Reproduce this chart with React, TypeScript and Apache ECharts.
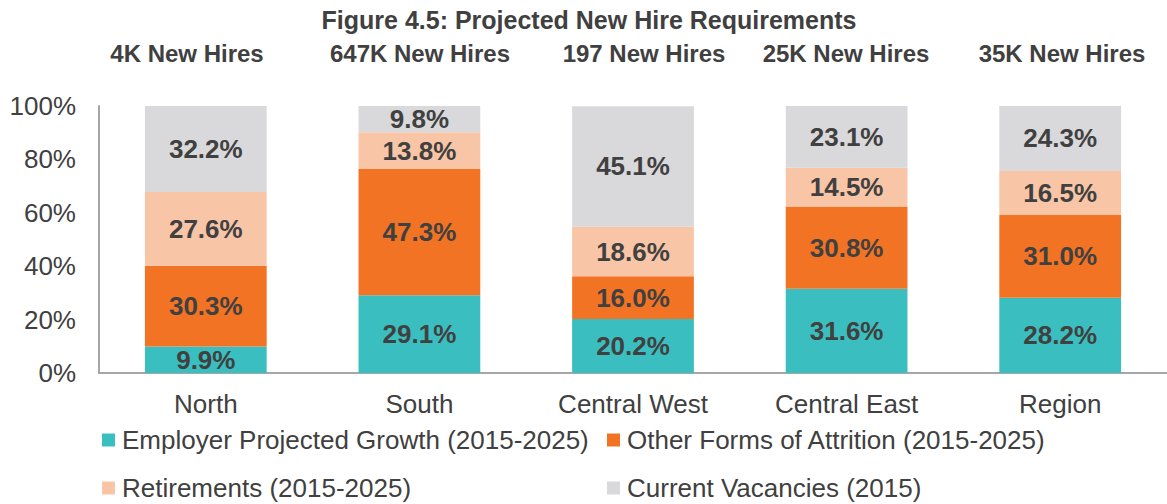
import React, { useEffect, useRef } from "react";
import * as echarts from "echarts";

const categories = ["North", "South", "Central West", "Central East", "Region"];
const hireLabels = ["4K New Hires", "647K New Hires", "197 New Hires", "25K New Hires", "35K New Hires"];
const growth = [9.9, 29.1, 20.2, 31.6, 28.2];
const attrition = [30.3, 47.3, 16.0, 30.8, 31.0];
const retirements = [27.6, 13.8, 18.6, 14.5, 16.5];
const vacancies = [32.2, 9.8, 45.1, 23.1, 24.3];
const seriesNames = [
  "Employer Projected Growth (2015-2025)",
  "Other Forms of Attrition (2015-2025)",
  "Retirements (2015-2025)",
  "Current Vacancies (2015)",
];
const yTicks = [0, 20, 40, 60, 80, 100];

// layout
const hireLabelX = [187, 420, 644, 846, 1062];
const colors = ["#3BBEBF", "#F37324", "#F8C5A6", "#D9D9DB"];
const FONT = "'Liberation Sans', Arial, sans-serif";
const TEXT = "#404040";

export default function App() {
  const ref = useRef<HTMLDivElement>(null);
  useEffect(() => {
    if (!ref.current) return;
    const chart = echarts.init(ref.current, null, { renderer: "svg" });
    const values = [growth, attrition, retirements, vacancies];
    const legendBase = {
      orient: "vertical",
      top: 427,
      height: 100,
      padding: 0,
      itemWidth: 13,
      itemHeight: 13,
      itemGap: 22,
      icon: "rect",
      textStyle: { fontSize: 26, lineHeight: 26, color: TEXT, fontFamily: FONT, padding: [0, 0, 0, 2] },
    };
    chart.setOption({
      animation: false,
      textStyle: { fontFamily: FONT },
      grid: { left: 99, right: -11, top: 106, bottom: 131 },
      graphic: [
        {
          type: "text",
          x: 589,
          y: 20,
          style: {
            text: "Figure 4.5: Projected New Hire Requirements",
            font: `bold 25px ${FONT}`,
            fill: TEXT,
            textAlign: "center",
            textVerticalAlign: "middle",
          },
        },
        ...hireLabels.map((t, i) => ({
          type: "text",
          x: hireLabelX[i],
          y: 53,
          style: {
            text: t,
            font: `bold 24px ${FONT}`,
            fill: TEXT,
            textAlign: "center",
            textVerticalAlign: "middle",
          },
        })),
      ],
      legend: [
        { ...legendBase, data: [seriesNames[0], seriesNames[2]], left: 102 },
        { ...legendBase, data: [seriesNames[1], seriesNames[3]], left: 607 },
      ],
      xAxis: {
        type: "category",
        data: categories,
        axisLine: { lineStyle: { color: "#A6A6A6", width: 2 } },
        axisTick: { show: false },
        axisLabel: { fontSize: 26, color: TEXT, margin: 18, fontFamily: FONT },
      },
      yAxis: {
        type: "value",
        min: yTicks[0],
        max: yTicks[yTicks.length - 1],
        interval: 20,
        splitLine: { show: false },
        axisLine: { show: true, lineStyle: { color: "#A6A6A6", width: 2 } },
        axisTick: { show: false },
        axisLabel: { formatter: "{value}%", fontSize: 26, color: TEXT, margin: 23, fontFamily: FONT },
      },
      series: seriesNames.map((name, i) => ({
        name,
        type: "bar",
        stack: "total",
        barCategoryGap: "43%",
        data: values[i],
        itemStyle: { color: colors[i] },
        label: {
          show: true,
          position: "inside",
          formatter: (p: any) => `${Number(p.value).toFixed(1)}%`,
          fontSize: 26,
          fontWeight: "bold",
          color: TEXT,
          fontFamily: FONT,
        },
      })),
    });
    return () => chart.dispose();
  }, []);
  return (
    <div
      ref={ref}
      style={{ position: "fixed", left: 0, top: 0, width: 1167, height: 504, background: "#fff" }}
    />
  );
}
